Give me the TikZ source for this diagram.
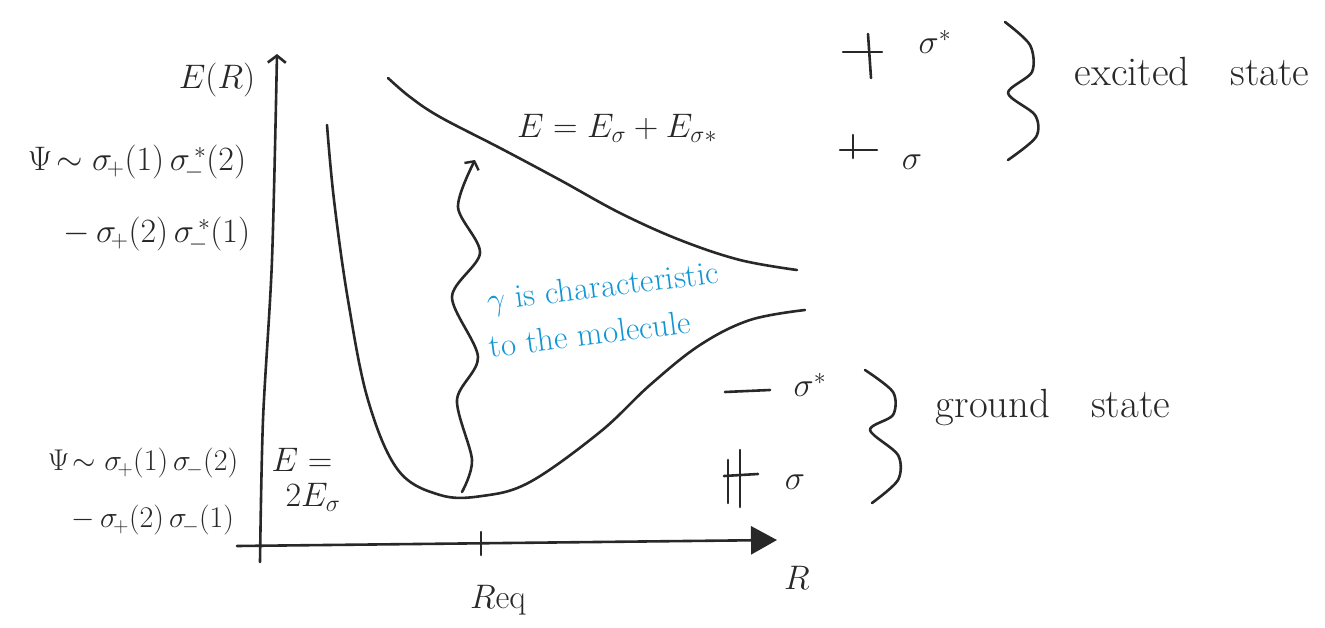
\RequirePackage{fix-cm}
\documentclass[tikz,border=0pt]{standalone}
\usetikzlibrary{arrows.meta}
\definecolor{handblue}{RGB}{18,150,212}
\definecolor{ink}{RGB}{40,40,40}
\begin{document}
\begin{tikzpicture}[x=1pt,y=-1pt,
  stroke/.style={draw=ink,line width=2.6pt,line cap=round,line join=round},
  lbl/.style={text=ink,font=\fontsize{34}{40}\selectfont,inner sep=0pt},
  slbl/.style={text=ink,font=\fontsize{30}{36}\selectfont,inner sep=0pt},
  wlbl/.style={text=ink,font=\fontsize{34}{40}\selectfont,inner sep=0pt,scale=1.2},
  blbl/.style={text=handblue,font=\fontsize{33}{38}\selectfont,inner sep=0pt,rotate=7},
  brace/.style={stroke},
  level/.style={stroke}]
\useasboundingbox (0,0) rectangle (1325,628);
% axes
\coordinate (yb) at (260,562);
\coordinate (yt) at (277,54);
\coordinate (xl) at (237,546);
\coordinate (xr) at (777,540);
\coordinate (t1) at (481,532);
\coordinate (t2) at (481,555);
\draw[stroke,-{Straight Barb[length=7pt,width=18pt,line width=2.6pt]}] plot[smooth] coordinates {(yb) (263,420) (272,260) (yt)};
\draw[stroke,-{Triangle[length=26pt,width=28pt]}] (xl) -- (xr);
\draw[stroke] (t1) -- (t2);
% labels on axes
\node[lbl] (ER) at (217,80) {$E(R)$};
\node[lbl] (req) at (498,600) {$R$eq};
\node[lbl] (Rx) at (797,578) {$R$};
% wavefunctions
\node[lbl] (psi1) at (137,163) {$\Psi\!\sim\sigma_{\!+}(1)\,\sigma_{\!-}^{\,*}(2)$};
\node[lbl] (psi2) at (157,235) {$-\,\sigma_{\!+}(2)\,\sigma_{\!-}^{\,*}(1)$};
\node[slbl] (psi3) at (143,463) {$\Psi\!\sim\sigma_{\!+}(1)\,\sigma_{\!-}(2)$};
\node[slbl] (psi4) at (153,520) {$-\,\sigma_{\!+}(2)\,\sigma_{\!-}(1)$};
\node[lbl] (Eeq) at (302,460) {$E=$};
\node[lbl] (Egs) at (313,497) {$2E_\sigma$};
\node[lbl] (Eex) at (617,128) {$E=E_\sigma+E_{\sigma*}$};
% curves
\draw[stroke] plot[smooth,tension=0.6] coordinates {(327,125) (334,200) (348,300) (368,400) (398,470) (440,495) (482,496) (530,482) (600,432) (650,385) (700,345) (750,320) (805,310)};
\draw[stroke] plot[smooth,tension=0.6] coordinates {(388,78) (410,97) (440,117) (500,148) (560,180) (620,213) (680,240) (740,260) (797,270)};
% photon
\draw[stroke,-{Straight Barb[length=6pt,width=16pt,line width=2.4pt]}] plot[smooth] coordinates {(462,492) (472,460) (457,400) (478,357) (452,297) (480,253) (458,207) (475,160)};
\node[blbl] (g1) at (603,289) {$\gamma$ is characteristic};
\node[blbl] (g2) at (590,334) {to the molecule};
% excited state levels
\draw[level] (843,52) -- (882,52);
\draw[level] (868,34) -- (871,78);
\node[lbl] (sse) at (935,42) {$\sigma^{*}$};
\draw[level] (840,150) -- (877,150);
\draw[level] (853,135) -- (853,158);
\node[lbl] (se) at (912,162) {$\sigma$};
\draw[brace] plot[smooth] coordinates {(1005,22) (1030,45) (1032,72) (1008,93) (1035,115) (1036,137) (1008,160)};
\node[wlbl] (exc) at (1192,72) {excited\quad state};
% ground state levels
\draw[level] (725,392) -- (770,390);
\node[lbl] (ssg) at (810,385) {$\sigma^{*}$};
\draw[level] (728,460) -- (728,503);
\draw[level] (740,450) -- (740,507);
\draw[level] (724,476) -- (758,474);
\node[lbl] (sg) at (795,482) {$\sigma$};
\draw[brace] plot[smooth] coordinates {(865,370) (893,392) (893,415) (870,430) (898,455) (898,480) (872,503)};
\node[wlbl] (gnd) at (1053,408) {ground\quad state};
\end{tikzpicture}
\end{document}
